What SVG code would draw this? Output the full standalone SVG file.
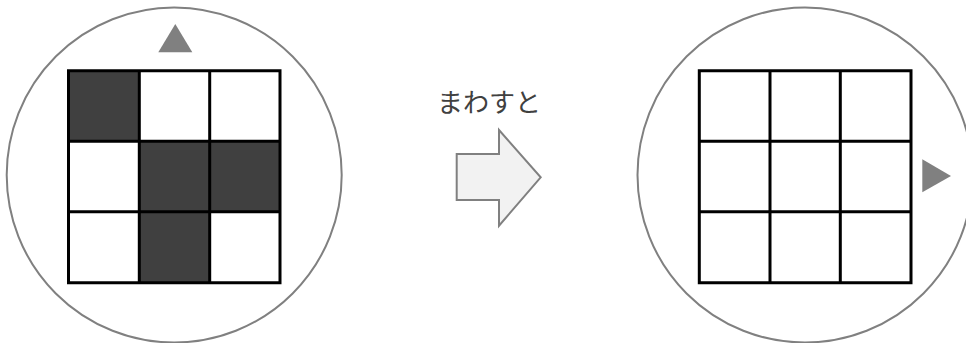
<svg xmlns="http://www.w3.org/2000/svg" width="966" height="343" viewBox="0 0 966 343">
<style>
.dial{fill:#fff;stroke:#808080;stroke-width:2}
.grid{fill:none;stroke:#000;stroke-width:3}
.cell-on{fill:#404040}
.mark{fill:#808080}
.label{font-family:"Noto Sans CJK JP","Noto Sans",sans-serif;font-size:26px;fill:#404040}
.arrow{fill:#f2f2f2;stroke:#808080;stroke-width:2}
</style>
<rect width="966" height="343" fill="#fff"/>
<g id="dial-before">
<circle class="dial" cx="174.2" cy="175" r="167.5"/>
<rect class="cell-on" x="68.5" y="70.7" width="70.8" height="70.6"/>
<rect class="cell-on" x="139.3" y="141.3" width="70.4" height="70.4"/>
<rect class="cell-on" x="209.7" y="141.3" width="70.3" height="70.4"/>
<rect class="cell-on" x="139.3" y="211.7" width="70.4" height="71"/>
<path class="grid" d="M68.5 70.7H280V282.7H68.5Z M139.3 70.7V282.7 M209.7 70.7V282.7 M68.5 141.3H280 M68.5 211.7H280"/>
<polygon class="mark" points="175.3,24 192.3,52.3 158.3,52.3"/>
</g>
<g id="dial-after">
<circle class="dial" cx="805" cy="175" r="167.5"/>
<path class="grid" d="M699.3 70.7H911V282.7H699.3Z M770 70.7V282.7 M840.3 70.7V282.7 M699.3 141.3H911 M699.3 211.7H911"/>
<polygon class="mark" points="951,176 922.3,192.3 922.3,159.3"/>
</g>
<g id="connectors">
<polygon class="arrow" points="456.7,154 499,154 499,130 540.7,177.3 499,225.7 499,200 456.7,200"/>
<text class="label" x="437" y="112">まわすと</text>
</g>
</svg>
